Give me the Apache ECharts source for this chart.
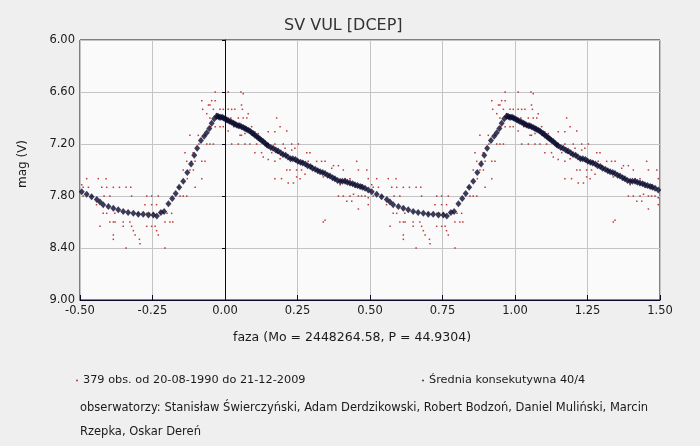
<!DOCTYPE html>
<html>
<head>
<meta charset="utf-8">
<script src="https://cdn.jsdelivr.net/npm/echarts@6/dist/echarts.min.js"></script>
<style>
html,body{margin:0;padding:0;background:#efefef;}
#chart{width:700px;height:446px;}
</style>
</head>
<body>
<div id="chart"></div>
<script>
// ---- data (phase in [0,1), magnitude) ----
const titleText = 'SV VUL [DCEP]';
const xAxisName = 'faza (Mo = 2448264.58, P = 44.9304)';
const yAxisName = 'mag (V)';
const obsLabel = '379 obs. od 20-08-1990 do 21-12-2009';
const meanLabel = 'Średnia konsekutywna 40/4';
const observersLines = [
  'obserwatorzy: Stanisław Świerczyński, Adam Derdzikowski, Robert Bodzoń, Daniel Muliński, Marcin',
  'Rzepka, Oskar Dereń'
];
const xTicks = [-0.5, -0.25, 0, 0.25, 0.5, 0.75, 1.0, 1.25, 1.5];
const yTicks = [6.0, 6.6, 7.2, 7.8, 8.4, 9.0];

// consecutive mean curve, one period
const meanCurve = [
  [0.000,6.91],[0.006,6.92],[0.011,6.93],[0.017,6.94],[0.023,6.95],[0.029,6.96],[0.034,6.97],[0.040,6.98],
  [0.046,6.99],[0.051,6.99],[0.057,7.00],[0.063,7.01],[0.069,7.02],[0.074,7.03],[0.080,7.04],[0.086,7.05],
  [0.092,7.07],[0.097,7.08],[0.103,7.10],[0.109,7.11],[0.115,7.13],[0.120,7.14],[0.126,7.16],[0.132,7.17],
  [0.138,7.19],[0.144,7.21],[0.149,7.22],[0.158,7.24],[0.166,7.25],[0.175,7.27],[0.183,7.28],[0.192,7.30],
  [0.200,7.32],[0.209,7.33],[0.217,7.35],[0.226,7.37],[0.234,7.37],[0.243,7.38],[0.251,7.40],[0.260,7.41],
  [0.268,7.42],[0.277,7.43],[0.285,7.45],[0.294,7.46],[0.302,7.48],[0.311,7.49],[0.320,7.51],[0.328,7.52],
  [0.337,7.53],[0.345,7.54],[0.354,7.56],[0.362,7.57],[0.371,7.59],[0.379,7.60],[0.388,7.62],[0.397,7.63],
  [0.405,7.63],[0.414,7.63],[0.422,7.64],[0.431,7.65],[0.440,7.66],[0.448,7.67],[0.457,7.68],[0.466,7.69],
  [0.474,7.70],[0.483,7.71],[0.494,7.73],[0.506,7.75],[0.523,7.78],[0.540,7.81],[0.558,7.84],[0.569,7.87],
  [0.580,7.90],[0.598,7.92],[0.615,7.94],[0.632,7.96],[0.649,7.98],[0.666,7.99],[0.684,8.00],[0.701,8.01],
  [0.718,8.01],[0.736,8.02],[0.753,8.02],[0.765,8.03],[0.779,7.99],[0.790,7.98],[0.805,7.89],[0.818,7.83],
  [0.830,7.77],[0.842,7.70],[0.856,7.63],[0.870,7.53],[0.883,7.43],[0.894,7.33],[0.904,7.25],[0.917,7.16],
  [0.928,7.11],[0.937,7.07],[0.946,7.02],[0.954,6.96],[0.963,6.91],[0.971,6.88],[0.976,6.88],[0.980,6.89],
  [0.985,6.89],[0.990,6.89],[0.995,6.90]
];

// individual observations, one period
const observations = [
  [0.523,7.6],[0.563,7.6],[0.590,7.6],[0.511,7.7],[0.529,7.7],[0.575,7.7],[0.592,7.7],[0.615,7.7],[0.636,7.7],
  [0.659,7.7],[0.675,7.7],[0.603,7.8],[0.583,7.8],[0.557,7.9],[0.580,8.0],[0.592,8.0],[0.603,8.1],[0.615,8.1],
  [0.621,8.1],[0.569,8.15],[0.649,8.15],[0.678,8.15],[0.684,8.2],[0.615,8.25],[0.615,8.3],[0.690,8.25],[0.705,8.3],
  [0.707,8.35],[0.659,8.4],[0.649,8.1],[0.672,8.1],[0.678,7.8],[0.730,7.8],[0.747,7.8],[0.770,7.8],[0.724,7.9],
  [0.747,7.9],[0.764,7.9],[0.730,8.0],[0.753,8.0],[0.776,8.0],[0.730,8.15],[0.747,8.15],[0.759,8.15],[0.764,8.2],
  [0.770,8.25],[0.793,8.4],[0.793,8.1],[0.810,8.1],[0.816,8.0],[0.820,8.1],[0.845,7.8],[0.856,7.8],[0.868,7.8],
  [0.856,7.5],[0.879,7.5],[0.891,7.5],[0.868,7.4],[0.885,7.4],[0.897,7.4],[0.862,7.3],[0.879,7.1],[0.897,7.7],
  [0.920,7.6],[0.920,7.4],[0.931,7.4],[0.908,7.1],[0.931,7.1],[0.937,7.2],[0.920,6.7],[0.943,6.75],[0.948,6.75],
  [0.954,6.7],[0.966,6.7],[0.923,6.8],[0.937,6.85],[0.948,6.9],[0.960,6.8],[0.971,6.85],[0.983,6.8],[0.994,6.8],
  [0.966,6.6],[0.966,7.0],[0.983,7.0],[0.994,7.0],[0.948,7.2],[0.960,7.2],
  [0.011,6.6],[0.055,6.6],[0.063,6.62],[0.011,6.8],[0.023,6.8],[0.034,6.8],[0.057,6.75],[0.060,6.8],[0.080,6.85],
  [0.046,6.9],[0.063,6.9],[0.075,6.9],[0.011,7.05],[0.040,7.0],[0.052,7.0],[0.069,7.08],[0.052,7.1],[0.057,7.1],
  [0.092,7.0],[0.103,7.06],[0.115,7.08],[0.149,7.06],[0.172,7.06],[0.190,7.0],[0.213,7.05],[0.178,6.9],[0.023,7.2],
  [0.046,7.2],[0.069,7.2],[0.086,7.2],[0.109,7.2],[0.149,7.2],[0.172,7.2],[0.201,7.2],[0.230,7.2],[0.253,7.2],
  [0.103,7.3],[0.126,7.3],[0.161,7.3],[0.184,7.3],[0.207,7.25],[0.230,7.27],[0.241,7.25],[0.132,7.35],[0.149,7.38],
  [0.172,7.4],[0.190,7.37],[0.224,7.37],[0.241,7.4],[0.253,7.4],[0.282,7.3],[0.293,7.3],[0.213,7.5],[0.224,7.5],
  [0.247,7.5],[0.264,7.5],[0.287,7.4],[0.299,7.45],[0.316,7.4],[0.333,7.4],[0.345,7.4],[0.172,7.6],[0.195,7.6],
  [0.218,7.65],[0.236,7.65],[0.247,7.58],[0.259,7.6],[0.276,7.55],[0.339,7.58],[0.368,7.48],[0.374,7.45],[0.391,7.45],
  [0.408,7.5],[0.414,7.6],[0.431,7.6],[0.454,7.4],[0.460,7.5],[0.489,7.5],[0.397,7.67],[0.431,7.67],[0.460,7.7],
  [0.471,7.67],[0.506,7.67],[0.494,7.6],[0.391,7.8],[0.408,7.8],[0.431,7.8],[0.443,7.78],[0.460,7.8],[0.471,7.8],
  [0.483,7.8],[0.494,7.82],[0.511,7.8],[0.420,7.86],[0.437,7.86],[0.494,7.9],[0.460,7.95],[0.339,8.1],[0.345,8.08],
  [0.020,6.9],[0.030,7.0],[0.100,7.1],[0.140,7.2],[0.180,7.3],[0.270,7.4],[0.320,7.5],[0.380,7.6],[0.450,7.7],
  [0.540,7.8],[0.620,8.0],[0.700,8.0],[0.740,8.0],[0.800,8.0],[0.840,7.7],[0.870,7.6],[0.890,7.3],[0.910,7.2],
  [0.950,7.0],[0.975,6.9]
];

// ---- build phase-folded copies in [-0.5, 1.5] ----
const XMIN = -0.5, XMAX = 1.5;
function unfold(arr) {
  const out = [];
  arr.forEach(function (d) {
    [-1, 0, 1].forEach(function (k) {
      const p = d[0] + k;
      if (p >= XMIN && p <= XMAX) out.push([p, d[1]]);
    });
  });
  return out;
}

const font = 'DejaVu Sans, Verdana, sans-serif';
const txt = '#1a1a1a';
const chart = echarts.init(document.getElementById('chart'), null, {renderer: 'canvas'});
chart.setOption({
  backgroundColor: '#efefef',
  animation: false,
  title: {
    text: titleText,
    left: 279, top: 13,
    textStyle: {fontFamily: font, fontSize: 16, fontWeight: 'normal', color: '#333'}
  },
  grid: {
    left: 80, right: 40, top: 40, bottom: 146,
    show: true, backgroundColor: '#fafafa', borderColor: '#0a0a28', borderWidth: 1
  },
  legend: [
    {
      data: [obsLabel], left: 71, top: 370, icon: 'circle', itemWidth: 2, itemHeight: 2,
      textStyle: {fontFamily: font, fontSize: 11.3, color: txt}, selectedMode: false
    },
    {
      data: [meanLabel], left: 417, top: 370, icon: 'circle', itemWidth: 2, itemHeight: 2,
      textStyle: {fontFamily: font, fontSize: 11.3, color: txt}, selectedMode: false
    }
  ],
  graphic: observersLines.map(function (line, i) {
    return {
      type: 'text', left: 80, top: 402 + i * 24,
      style: {text: line, font: '11.5px ' + font, fill: txt}
    };
  }),
  xAxis: {
    type: 'value', min: XMIN, max: XMAX, interval: 0.25,
    name: xAxisName, nameLocation: 'middle', nameGap: 31,
    nameTextStyle: {fontFamily: font, fontSize: 12.5, color: txt, padding: [0, 36, 0, 0]},
    axisLine: {show: true, lineStyle: {color: '#0a0a28', width: 1}},
    axisTick: {show: true, inside: true, length: 5, lineStyle: {color: '#0a0a28'}},
    axisLabel: {fontFamily: font, fontSize: 11.5, color: txt, margin: 5,
      formatter: function (v) { return v.toFixed(2); }},
    splitLine: {show: true, lineStyle: {color: '#c4c4c4', width: 1}}
  },
  yAxis: {
    type: 'value', inverse: true, min: 6, max: 9, interval: 0.6,
    name: yAxisName, nameLocation: 'middle', nameGap: 51, nameRotate: 90,
    nameTextStyle: {fontFamily: font, fontSize: 12, color: txt, padding: [0, 0, 0, 12]},
    axisLine: {show: true, lineStyle: {color: '#0a0a28', width: 1}},
    axisTick: {show: true, inside: false, length: 3, lineStyle: {color: '#0a0a28'}},
    axisLabel: {fontFamily: font, fontSize: 11.5, color: txt, margin: 5,
      formatter: function (v) { return v.toFixed(2); }},
    splitLine: {show: true, lineStyle: {color: '#c4c4c4', width: 1}}
  },
  series: [
    {
      name: obsLabel, type: 'scatter', data: unfold(observations),
      symbol: 'rect', symbolSize: 1.5, itemStyle: {color: '#b80808'}, z: 2
    },
    {
      name: meanLabel, type: 'scatter', data: unfold(meanCurve),
      symbol: 'diamond', symbolSize: [6, 7], itemStyle: {color: '#0c0c30'}, z: 3
    }
  ]
});
</script>
</body>
</html>
